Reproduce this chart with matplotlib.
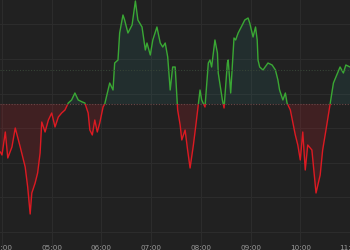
import matplotlib

matplotlib.use("Agg")
import matplotlib.pyplot as plt
import matplotlib.dates as mdates
from matplotlib.patches import Rectangle
import numpy as np
import pandas as pd

# session start and samples (minutes after 04:00, change vs. previous close)
start = "2024-01-02 04:00"
minutes = [-2, 0, 4, 7, 12, 16, 22, 28, 31, 34, 36, 40, 43, 46, 48, 52, 56, 60, 64, 68,
           72, 76, 80, 84, 88, 92, 97, 100, 104, 106, 109, 112, 115, 118, 122, 124, 130, 134, 136, 140,
           142, 146, 148, 152, 157, 161, 164, 169, 173, 175, 179, 182, 187, 191, 194, 197, 200, 203, 206, 209,
           212, 215, 217, 221, 224, 227, 231, 234, 237, 239, 241, 245, 249, 251, 253, 257, 260, 261, 266, 268,
           272, 273, 276, 280, 282, 285, 290, 293, 297, 299, 303, 306, 308, 309, 311, 315, 321, 326, 330, 333,
           335, 339, 342, 344, 348, 354, 357, 360, 363, 366, 369, 374, 379, 384, 387, 391, 396, 400, 403, 408,
           412, 415, 420]
change = [-48, -51, -28, -54, -43, -24, -43, -63, -83, -110, -89, -79, -69, -49, -18, -28, -16, -9, -23, -13,
          -9, -6, 1, 4, 11, 4, 2, 1, -9, -26, -31, -16, -28, -19, -3, 0, 21, 14, 41, 44,
          71, 89, 84, 71, 79, 103, 84, 77, 54, 61, 49, 64, 77, 61, 57, 61, 47, 14, 37, 37,
          -6, -21, -36, -26, -46, -64, -41, -21, 0, 14, 4, -3, 41, 44, 37, 64, 51, 31, 4, -4,
          41, 44, 11, 66, 64, 71, 79, 84, 86, 81, 67, 77, 64, 44, 37, 34, 41, 39, 34, 24,
          14, 4, 11, 1, -6, -31, -41, -56, -28, -66, -41, -46, -89, -71, -46, -26, 0, 21, 27, 37,
          31, 39, 37]
hour_ticks = ["04:00", "05:00", "06:00", "07:00", "08:00", "09:00", "10:00", "11:00"]
grid_levels = [-128, -93, -59, -24, 10, 45, 80]
ref_level = 34

BG = "#212121"
GREEN = "#3aa834"
RED = "#dd1a22"

day = start.split()[0]
t0 = pd.Timestamp(start)
x = mdates.date2num(t0 + pd.to_timedelta(minutes, unit="m"))
v = np.array(change, dtype=float)
tick_x = mdates.date2num([pd.Timestamp(f"{day} {h}") for h in hour_ticks])

fig = plt.figure(figsize=(3.5, 2.5), dpi=100, facecolor=BG)
ax = fig.add_axes([0, 0, 1, 1])
ax.set_facecolor(BG)

x_left = mdates.date2num(t0 - pd.Timedelta(minutes=2.4))
x_right = tick_x[-1]
ax.set_xlim(x_left, x_right)
ax.set_ylim(-146, 104)

ax.fill_between(x, v, 0, where=v >= 0, interpolate=True, color="#2c6f70", alpha=0.17, lw=0)
ax.fill_between(x, v, 0, where=v <= 0, interpolate=True, color="#b02028", alpha=0.22, lw=0)

# one line, coloured green above the previous close and red below it
up, = ax.plot(x, v, color=GREEN, lw=1.0)
dn, = ax.plot(x, v, color=RED, lw=1.0)
up.set_clip_path(Rectangle((x_left, 0), x_right - x_left, 300, transform=ax.transData))
dn.set_clip_path(Rectangle((x_left, -300), x_right - x_left, 300, transform=ax.transData))

ax.axhline(0, color="#6a4848", lw=0.8, ls=(0, (1, 1.5)))
ax.axhline(ref_level, color="#364436", lw=0.8, ls=(0, (1, 1.5)))

ax.set_xticks(tick_x)
ax.set_xticklabels(hour_ticks)
ax.set_yticks(grid_levels)
ax.grid(True, color="#2c2c2c", lw=0.8)
ax.set_axisbelow(True)
ax.tick_params(axis="x", length=0, pad=-3.6, labelsize=5.2, labelcolor="#9a9a9a")
ax.tick_params(axis="y", length=0, labelleft=False)
for s in ax.spines.values():
    s.set_visible(False)

fig.savefig("out.png", dpi=100, facecolor=BG)
plt.close(fig)
